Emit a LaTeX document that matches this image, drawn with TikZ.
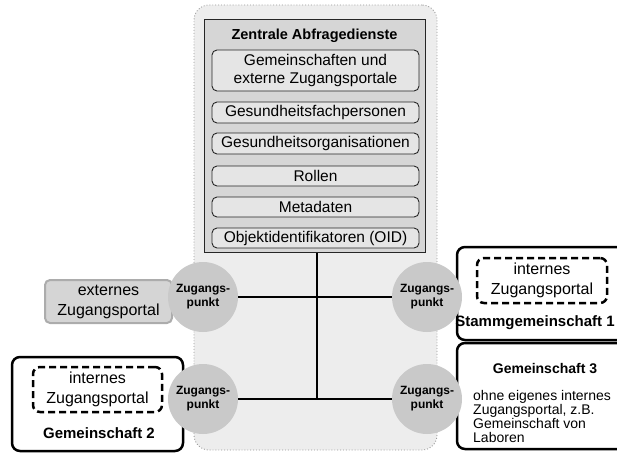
\documentclass[tikz,border=0pt]{standalone}
\usepackage{fontspec}
\setmainfont{Liberation Sans}
\tikzset{
  outerbox/.style={draw=gray!80, dotted, line width=0.9pt, rounded corners=15pt, fill=gray!14, minimum width=243pt, minimum height=445pt},
  mainbox/.style={draw=black!85, line width=1pt, fill=gray!32, minimum width=221pt, minimum height=232pt},
  svc/.style={draw=black!85, fill=gray!20, rounded corners=5pt, line width=0.9pt, minimum width=207pt, inner sep=0pt, align=center, font=\fontsize{15.5}{17.5}\selectfont},
  zp/.style={circle, fill=gray!42, minimum size=70pt, inner sep=0pt, align=center, font=\bfseries\fontsize{12}{14}\selectfont},
  comm/.style={draw=black, line width=2.5pt, rounded corners=8pt, fill=white},
  portal/.style={draw=black, dash pattern=on 7pt off 4pt, line width=2.5pt, rounded corners=7pt, align=center, inner sep=0pt, font=\fontsize{16}{20}\selectfont},
  extportal/.style={draw=gray!65, line width=2pt, rounded corners=5pt, fill=gray!33, align=center, inner sep=0pt, font=\fontsize{16}{20}\selectfont},
  conn/.style={draw=black, line width=1.5pt},
  lbl/.style={font=\bfseries\fontsize{14}{16}\selectfont, inner sep=0pt}
}
\begin{document}
\begin{tikzpicture}[x=1pt, y=-1pt]
\useasboundingbox (0,0) rectangle (617,452);
\clip (0,0) rectangle (617,452);
% outer dotted area
\node[outerbox] (outer) at (315.5,227.5) {};
% central services
\node[mainbox] (main) at (314.5,136) {};
\node[lbl, font=\bfseries\fontsize{14.5}{16}\selectfont] (title) at (314.5,36) {Zentrale Abfragedienste};
\node[svc, minimum height=41pt] (s1) at (315.5,70.5) {Gemeinschaften und\\externe Zugangsportale};
\node[svc, minimum height=21pt] (s2) at (315.5,112.5) {Gesundheitsfachpersonen};
\node[svc, minimum height=21pt] (s3) at (315.5,143.5) {Gesundheitsorganisationen};
\node[svc, minimum height=20pt] (s4) at (315.5,176) {Rollen};
\node[svc, minimum height=20pt] (s5) at (315.5,207) {Metadaten};
\node[svc, minimum height=20pt] (s6) at (315.5,238) {Objektidentifikatoren (OID)};
% communities
\node[extportal, minimum width=127pt, minimum height=43pt] (ext) at (108.5,301.5) {externes\\Zugangsportal};
\node[comm, minimum width=171pt, minimum height=94pt] (g2) at (97.5,404) {};
\node[portal, minimum width=129pt, minimum height=45pt] (p2) at (97.5,389.5) {internes\\Zugangsportal};
\node[lbl, font=\bfseries\fontsize{15}{17}\selectfont] (g2l) at (99,433) {Gemeinschaft 2};
\node[comm, minimum width=170pt, minimum height=93pt] (g1) at (542,293.5) {};
\node[portal, minimum width=130pt, minimum height=45pt] (p1) at (542,280.5) {internes\\Zugangsportal};
\node[lbl, font=\bfseries\fontsize{15}{17}\selectfont] (g1l) at (535,323) {Stammgemeinschaft 1};
\node[comm, minimum width=170pt, minimum height=106pt] (g3) at (542,396) {};
\node[lbl] (g3l) at (545,368) {Gemeinschaft 3};
\node[anchor=west, align=left, inner sep=0pt, font=\fontsize{14}{14}\selectfont] (g3t) at (473,416) {ohne eigenes internes\\Zugangsportal, z.B.\\Gemeinschaft von\\Laboren};
% access points
\node[zp] (zpUL) at (203,297) {Zugangs-\\punkt};
\node[zp] (zpLL) at (203,399) {Zugangs-\\punkt};
\node[zp] (zpUR) at (427,297) {Zugangs-\\punkt};
\node[zp] (zpLR) at (427,399) {Zugangs-\\punkt};
% connectors
\coordinate (j) at (317,399);
\draw[conn] (zpUL) -- (zpUR);
\draw[conn] (zpLL) -- (zpLR);
\draw[conn] (main.south -| j) -- (j);
\end{tikzpicture}
\end{document}
